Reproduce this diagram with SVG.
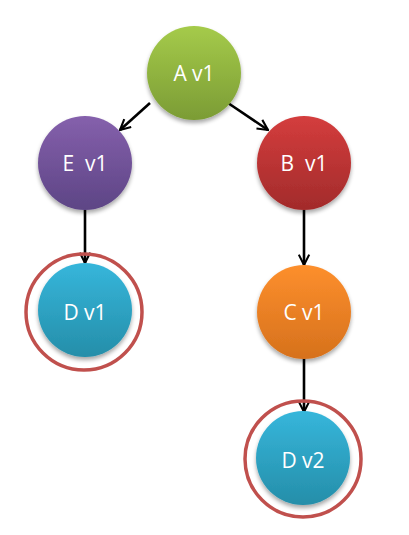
<svg xmlns="http://www.w3.org/2000/svg" width="409" height="535" viewBox="0 0 409 535">
<defs>
<linearGradient id="gA" x1="0" y1="0" x2="0" y2="1"><stop offset="0" stop-color="#a5cb4a"/><stop offset="1" stop-color="#7b9c35"/></linearGradient>
<linearGradient id="gE" x1="0" y1="0" x2="0" y2="1"><stop offset="0" stop-color="#8560ac"/><stop offset="1" stop-color="#5d4585"/></linearGradient>
<linearGradient id="gB" x1="0" y1="0" x2="0" y2="1"><stop offset="0" stop-color="#d43d3d"/><stop offset="1" stop-color="#a22b2b"/></linearGradient>
<linearGradient id="gC" x1="0" y1="0" x2="0" y2="1"><stop offset="0" stop-color="#fd8f2d"/><stop offset="1" stop-color="#d6711c"/></linearGradient>
<linearGradient id="gD" x1="0" y1="0" x2="0" y2="1"><stop offset="0" stop-color="#36b6db"/><stop offset="1" stop-color="#258ea9"/></linearGradient>
<filter id="sh" x="-20%" y="-20%" width="140%" height="150%"><feGaussianBlur in="SourceAlpha" stdDeviation="2"/><feOffset dy="3"/><feComponentTransfer><feFuncA type="linear" slope="0.35"/></feComponentTransfer><feMerge><feMergeNode/><feMergeNode in="SourceGraphic"/></feMerge></filter>
<marker id="arr" viewBox="0 0 10 10" refX="9" refY="5" markerWidth="5" markerHeight="5" orient="auto" markerUnits="strokeWidth"><path d="M1,1 L9,5 L1,9" fill="none" stroke="#000" stroke-width="1.6"/></marker>
</defs>
<style>
.lbl{font-family:"Open Sans","Liberation Sans",sans-serif;font-size:21px;fill:#fff;text-anchor:middle;dominant-baseline:central;white-space:pre}
.ring{fill:none;stroke:#c0504d;stroke-width:3.5}
.edge{stroke:#000;stroke-width:2.6;fill:none;marker-end:url(#arr)}
</style>
<g id="connectors">
<line class="edge" x1="150" y1="103" x2="120" y2="130"/>
<line class="edge" x1="228" y1="103" x2="268" y2="130"/>
<line class="edge" x1="85" y1="210" x2="85" y2="263"/>
<line class="edge" x1="304" y1="210" x2="304" y2="265"/>
<line class="edge" x1="304" y1="358" x2="304" y2="412"/>
</g>
<g id="nodeA"><circle cx="194" cy="73" r="47" fill="url(#gA)" filter="url(#sh)"/><text class="lbl" x="194" y="73">A v1</text></g>
<g id="nodeE"><circle cx="85" cy="163" r="47" fill="url(#gE)" filter="url(#sh)"/><text class="lbl" x="85" y="163" xml:space="preserve">E  v1</text></g>
<g id="nodeB"><circle cx="304" cy="163" r="47" fill="url(#gB)" filter="url(#sh)"/><text class="lbl" x="304" y="163" xml:space="preserve">B  v1</text></g>
<g id="nodeD1"><circle class="ring" cx="84" cy="312" r="58"/><circle cx="85" cy="310" r="47" fill="url(#gD)" filter="url(#sh)"/><text class="lbl" x="85" y="312">D v1</text></g>
<g id="nodeC"><circle cx="304" cy="312" r="47" fill="url(#gC)" filter="url(#sh)"/><text class="lbl" x="304" y="312">C v1</text></g>
<g id="nodeD2"><circle class="ring" cx="303" cy="459" r="58"/><circle cx="303" cy="458" r="47" fill="url(#gD)" filter="url(#sh)"/><text class="lbl" x="303" y="460">D v2</text></g>
</svg>
